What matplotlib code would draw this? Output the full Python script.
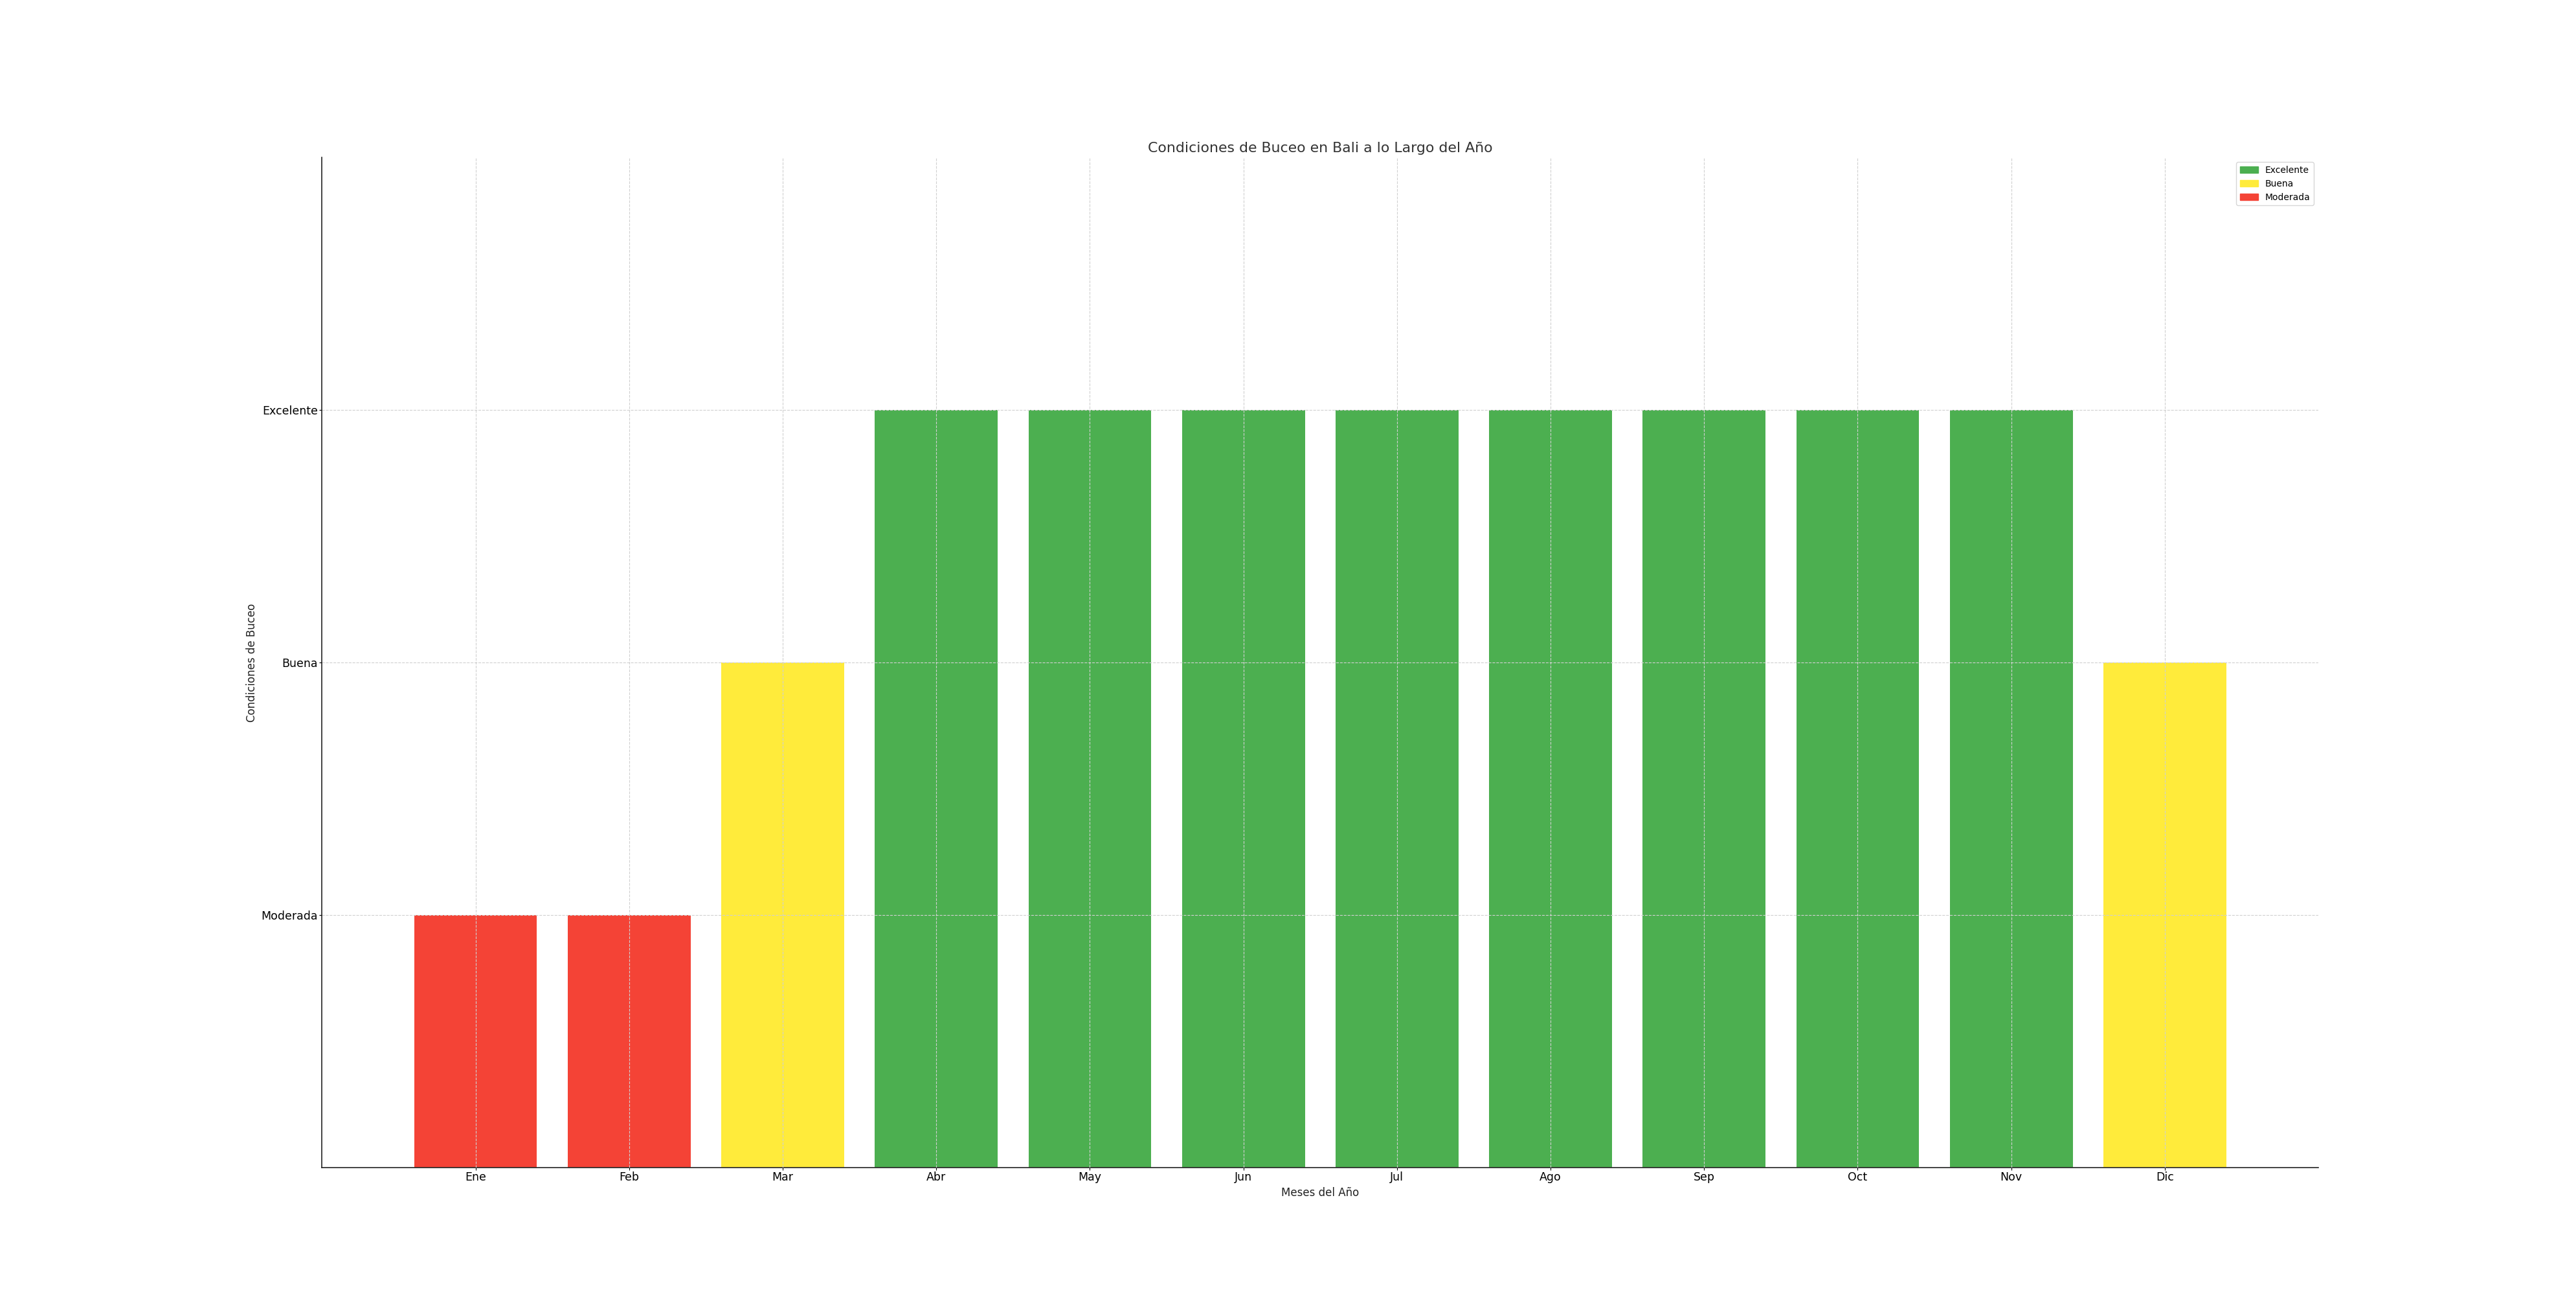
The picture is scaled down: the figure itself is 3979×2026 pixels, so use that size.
import matplotlib.pyplot as plt
from matplotlib.patches import Patch

plt.rcParams["font.family"] = ["DejaVu Sans"]
plt.rcParams["font.size"] = 12

meses = ["Ene", "Feb", "Mar", "Abr", "May", "Jun", "Jul", "Ago", "Sep", "Oct", "Nov", "Dic"]
condiciones = ["Moderada", "Moderada", "Buena", "Excelente", "Excelente", "Excelente",
               "Excelente", "Excelente", "Excelente", "Excelente", "Excelente", "Buena"]
niveles = ["Moderada", "Buena", "Excelente"]
colores = {"Excelente": "#4CAF50", "Buena": "#FFEB3B", "Moderada": "#F44336"}

valores = [niveles.index(c) + 1 for c in condiciones]
colores_barras = [colores[c] for c in condiciones]

fig, ax = plt.subplots(figsize=(39.79, 20.26), dpi=100)
ax.bar(range(len(meses)), valores, color=colores_barras, width=0.8, zorder=1)

ax.set_xlim(-1, 12)
ax.set_ylim(0, 4)
ax.set_xticks(range(len(meses)))
ax.set_xticklabels(meses)
ax.set_yticks([1, 2, 3])
ax.set_yticklabels(niveles)
ax.tick_params(length=3, pad=1.5, labelsize=12.5)

ax.grid(True, linestyle="--", color="#d0d0d0", linewidth=0.8, zorder=2)
ax.set_axisbelow(False)
for s in ["top", "right"]:
    ax.spines[s].set_visible(False)
for s in ["left", "bottom"]:
    ax.spines[s].set_color("#222222")
    ax.spines[s].set_linewidth(1.2)

ax.set_title("Condiciones de Buceo en Bali a lo Largo del Año", color="#333333", fontsize=15.8)
ax.set_xlabel("Meses del Año", color="#222222")
ax.set_ylabel("Condiciones de Buceo", color="#222222")

handles = [Patch(color=colores[n], label=n) for n in ["Excelente", "Buena", "Moderada"]]
ax.legend(handles=handles, loc="upper right", fontsize=10)

fig.savefig("out.png", dpi=100)
